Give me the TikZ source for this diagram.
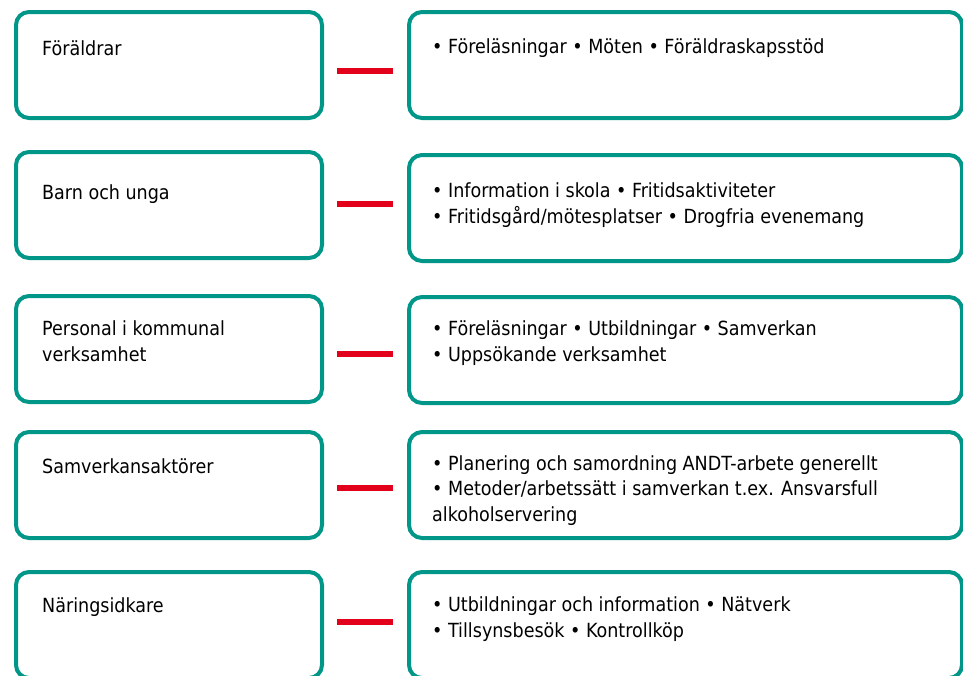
\documentclass[tikz,border=0pt]{standalone}
\usepackage{fontspec}
\setmainfont{DejaVu Sans Condensed}
\usetikzlibrary{positioning}
\definecolor{boxteal}{RGB}{0,150,136}
\definecolor{linkred}{RGB}{226,0,26}
\tikzset{
  group/.style={draw=boxteal, fill=white, line width=4pt, rounded corners=13pt,
    minimum width=306pt, minimum height=106pt, anchor=north west, inner sep=0pt},
  measure/.style={group, minimum width=553pt},
  lbl/.style={anchor=base west, inner sep=0pt, align=left,
    font=\fontsize{19.5}{25.5}\selectfont},
  link/.style={draw=linkred, line width=5.5pt, shorten <=13pt, shorten >=14pt}
}
\begin{document}
\begin{tikzpicture}[x=1pt,y=-1pt]
    \useasboundingbox (0,0) rectangle (963,675);
    % target groups
    \node[group] (g1) at (14,10) {};
    \node[group] (g2) at (14,150) {};
    \node[group] (g3) at (14,294) {};
    \node[group] (g4) at (14,430) {};
    \node[group] (g5) at (14,570) {};
    % measures
    \node[measure] (m1) at (407,10) {};
    \node[measure] (m2) at (407,153) {};
    \node[measure] (m3) at (407,295) {};
    \node[measure] (m4) at (407,430) {};
    \node[measure] (m5) at (407,570) {};
    % labels (base = last line)
    \node[lbl] (t1) at ([shift={(28,45)}]g1.north west) {Föräldrar};
    \node[lbl] (t2) at ([shift={(28,49)}]g2.north west) {Barn och unga};
    \node[lbl] (t3) at ([shift={(28,67)}]g3.north west) {Personal i kommunal\\verksamhet};
    \node[lbl] (t4) at ([shift={(28,43)}]g4.north west) {Samverkansaktörer};
    \node[lbl] (t5) at ([shift={(28,42)}]g5.north west) {Näringsidkare};
    \node[lbl] (s1) at ([shift={(25,43)}]m1.north west) {• Föreläsningar • Möten • Föräldraskapsstöd};
    \node[lbl] (s2) at ([shift={(25,70)}]m2.north west) {• Information i skola • Fritidsaktiviteter\\• Fritidsgård/mötesplatser • Drogfria evenemang};
    \node[lbl] (s3) at ([shift={(25,66)}]m3.north west) {• Föreläsningar • Utbildningar • Samverkan\\• Uppsökande verksamhet};
    \node[lbl] (s4) at ([shift={(25,91)}]m4.north west) {• Planering och samordning ANDT-arbete generellt\\• Metoder/arbetssätt i samverkan t.ex. Ansvarsfull\\alkoholservering};
    \node[lbl] (s5) at ([shift={(25,67)}]m5.north west) {• Utbildningar och information • Nätverk\\• Tillsynsbesök • Kontrollköp};
    % links
    \draw[link] ([yshift=-6pt]g1.east) -- ([yshift=-6pt]g1.east -| m1.west);
    \draw[link] ([yshift=1pt]g2.east) -- ([yshift=1pt]g2.east -| m2.west);
    \draw[link] ([yshift=-5pt]g3.east) -- ([yshift=-5pt]g3.east -| m3.west);
    \draw[link] ([yshift=-3pt]g4.east) -- ([yshift=-3pt]g4.east -| m4.west);
    \draw[link] ([yshift=3pt]g5.east) -- ([yshift=3pt]g5.east -| m5.west);
\end{tikzpicture}
\end{document}
